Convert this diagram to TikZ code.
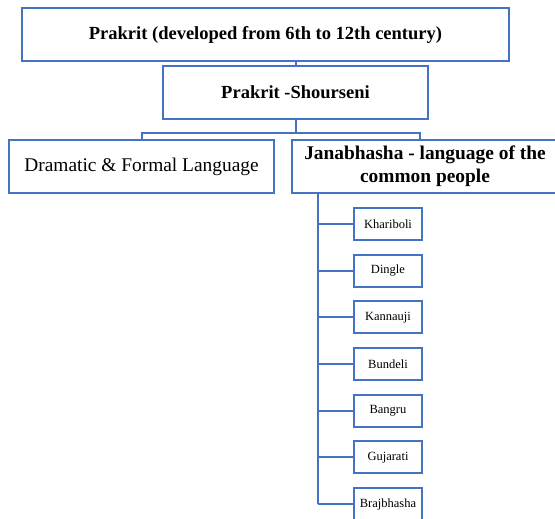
\documentclass[tikz,border=0pt]{standalone}
\usepackage{fontspec}
\setmainfont{Liberation Serif}
\definecolor{boxblue}{RGB}{68,114,196}
\tikzset{
    langbox/.style={draw=boxblue, line width=2pt, fill=white, inner sep=0pt, align=center},
    dialbox/.style={langbox, minimum width=68pt, minimum height=32pt, font=\fontsize{12.5}{15}\selectfont},
    link/.style={draw=boxblue, line width=2pt},
}
\begin{document}
\begin{tikzpicture}[x=1pt, y=-1pt]
    \useasboundingbox (0,0) rectangle (555,519);

    % Draw main boxes
    \node[langbox, minimum width=487pt, minimum height=53pt, font=\bfseries\fontsize{18.5}{22}\selectfont]
        (prakrit) at (265.5,34.5) {Prakrit (developed from 6th to 12th century)};
    \node[langbox, minimum width=265pt, minimum height=53pt, font=\bfseries\fontsize{18.5}{22}\selectfont]
        (shourseni) at (295.5,92.5) {Prakrit -Shourseni};
    \node[langbox, minimum width=265pt, minimum height=53pt, font=\fontsize{19.4}{23}\selectfont]
        (dramatic) at (141.5,166.5) {Dramatic \& Formal Language};
    \node[langbox, minimum width=266pt, minimum height=53pt, font=\bfseries\fontsize{19.4}{23}\selectfont]
        (janabhasha) at (425,166.5) {Janabhasha - language of the\\common people};

    % Draw connectors
    \coordinate (split) at (295.5,133);
    \coordinate (trunk) at (318,193);
    \draw[link] (shourseni.north) -- (shourseni.north |- prakrit.south);
    \draw[link] (shourseni.south) -- (split);
    \draw[link] (dramatic.north) |- (split) -| ([xshift=-5pt]janabhasha.north);

    % Draw dialects
    \foreach \dial [count=\i] in {Khariboli,Dingle,Kannauji,Bundeli,Bangru,Gujarati,Brajbhasha} {
        \node[dialbox] (dial\i) at (388,{224+46.67*(\i-1)}) {\dial};
        \draw[link] (trunk |- dial\i.west) -- (dial\i.west);
    }
    \draw[link] (trunk) -- (trunk |- dial7.west);
\end{tikzpicture}
\end{document}
